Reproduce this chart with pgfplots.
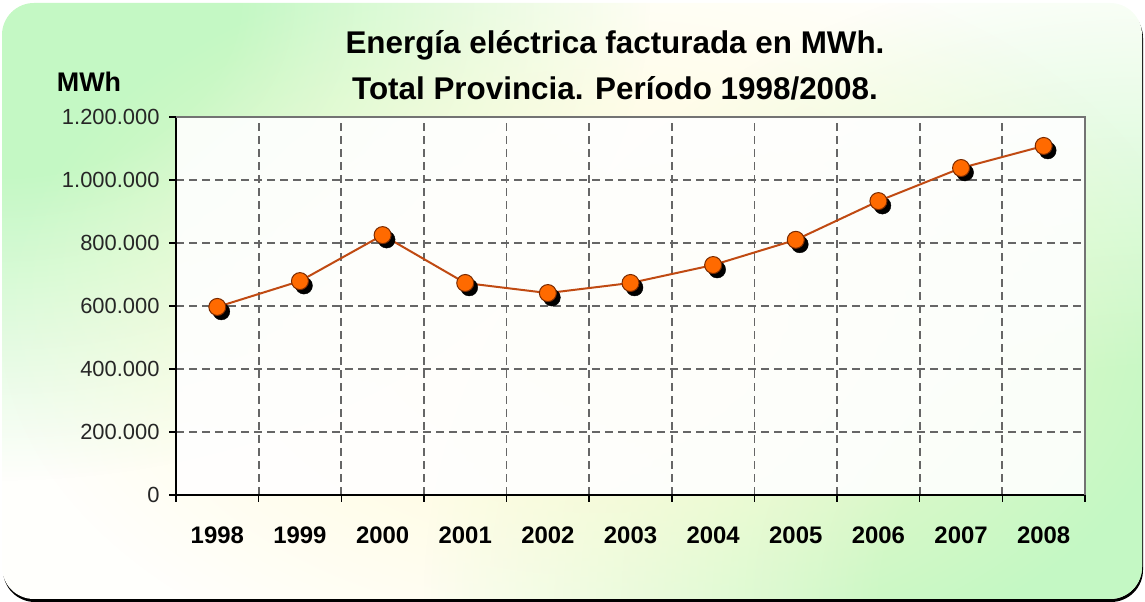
\documentclass[border=0pt]{standalone}
\usepackage{pgfplots}
\pgfplotsset{compat=1.18}
\usetikzlibrary{fadings}
\usepackage{fontspec}
\setmainfont{Liberation Sans}
\definecolor{bgout}{HTML}{C4F8C4}
\definecolor{bgin}{HTML}{FFFFFC}
\definecolor{glow}{HTML}{FFFAD0}
\definecolor{mkfill}{HTML}{FF6A00}
\definecolor{mkdraw}{HTML}{7A2A00}
\definecolor{linec}{HTML}{C04A12}
\tikzfading[name=radfade, inner color=transparent!0, outer color=transparent!100]
\pgfdeclareradialshading{plateaush}{\pgfpointorigin}{color(0bp)=(pgftransparent!0); color(9bp)=(pgftransparent!0); color(25bp)=(pgftransparent!100); color(50bp)=(pgftransparent!100)}
\pgfdeclarefading{plateau}{\pgfuseshading{plateaush}}
\begin{document}
\begin{tikzpicture}[x=1bp,y=1bp]
\useasboundingbox (0,0) rectangle (1145,602);
\fill[black, rounded corners=32bp] (3,0) rectangle (1143,596);
\begin{scope}
\clip[rounded corners=32bp] (2,3) rectangle (1142,599);
\fill[bgin] (0,0) rectangle (1145,602);
\fill[bgout, path fading=plateau] (0,602) ellipse (650bp and 480bp);
\fill[bgout, path fading=plateau] (1145,0) ellipse (720bp and 640bp);
\fill[glow, path fading=radfade] (600,280) ellipse (600bp and 380bp);
\end{scope}
\node[font=\bfseries\fontsize{31.5}{34}\selectfont] at (615,557) {Energía eléctrica facturada en MWh.};
\node[font=\bfseries\fontsize{31.5}{34}\selectfont] at (615,514) {Total Provincia. Período 1998/2008.};
\node[font=\bfseries\fontsize{27}{30}\selectfont] at (89,520) {MWh};
\begin{axis}[
  at={(176bp,107bp)}, anchor=south west,
  scale only axis, width=909bp, height=378bp,
  xmin=-0.5, xmax=10.5, ymin=0, ymax=1200000,
  axis lines*=left,
  axis line style={line width=1.8bp, black},
  axis background/.style={fill=white, fill opacity=0.9},
  xtick={-0.5,0.5,...,10.5}, xticklabels={},
  extra x ticks={0,1,...,10},
  extra x tick labels={1998,1999,2000,2001,2002,2003,2004,2005,2006,2007,2008},
  extra x tick style={grid=none, major tick length=0pt, xtick style={draw=none}},
  ytick={0,200000,...,1200000},
  yticklabels={0,200.000,400.000,600.000,800.000,1.000.000,1.200.000},
  scaled y ticks=false,
  tick align=outside, major tick length=7bp,
  tick style={line width=1.5bp, black},
  xmajorgrids, ymajorgrids,
  major grid style={line width=1.8bp, black!60, dash pattern=on 8bp off 5bp},
  x tick label style={font=\bfseries\fontsize{24}{26}\selectfont, yshift=-28bp},
  y tick label style={font=\fontsize{22}{24}\selectfont, text=black!85, xshift=-6bp},
  clip=false,
]
\addplot[draw=none, mark=*, mark size=8.5bp, mark options={fill=black, draw=black, xshift=4bp, yshift=-4.5bp}]
  coordinates {(0,597000)(1,679000)(2,825000)(3,673000)(4,641000)(5,673000)(6,730000)(7,810000)(8,933000)(9,1038000)(10,1108000)};
\addplot[linec, line width=2bp, mark=*, mark size=8.5bp, mark options={fill=mkfill, draw=mkdraw, line width=1bp}]
  coordinates {(0,597000)(1,679000)(2,825000)(3,673000)(4,641000)(5,673000)(6,730000)(7,810000)(8,933000)(9,1038000)(10,1108000)};
\draw[line width=2bp, black!55] (rel axis cs:0,1) -- (rel axis cs:1,1) -- (rel axis cs:1,0);
\end{axis}
\end{tikzpicture}
\end{document}
